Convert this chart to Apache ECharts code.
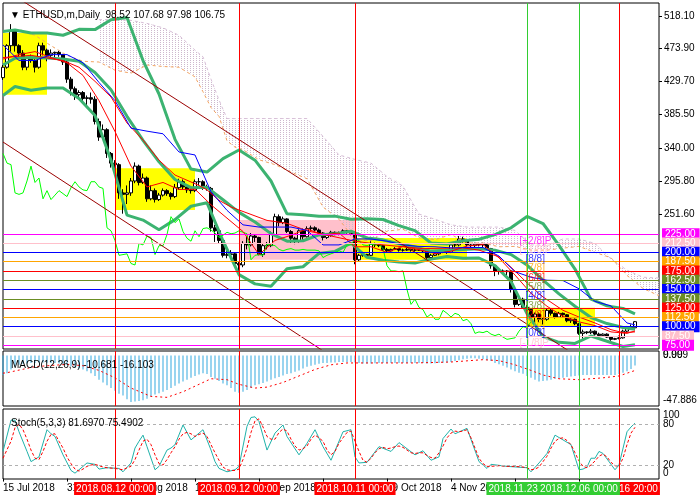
<!DOCTYPE html>
<html><head><meta charset="utf-8">
<script src="https://cdn.jsdelivr.net/npm/echarts@6/dist/echarts.min.js"></script>
<style>html,body{margin:0;padding:0;background:#fff}#c{width:700px;height:500px}</style>
</head><body><div id="c"></div>
<script>
// ---------- DATA ----------
const MONTHS=['Jan','Feb','Mar','Apr','May','Jun','Jul','Aug','Sep','Oct','Nov','Dec'];
const categories=[];
for(let k=0;k<165;k++){const d=new Date(Date.UTC(2018,6,15+k));categories.push(d.getUTCDate()+' '+MONTHS[d.getUTCMonth()]+' '+d.getUTCFullYear());}
const tickLabels=['15 Jul 2018','31 Jul 2018','16 Aug 2018','1 Sep 2018','17 Sep 2018','3 Oct 2018','19 Oct 2018','4 Nov 2018','20 Nov 2018','6 Dec 2018'];
const priceTicks=[518.10,473.90,429.70,385.50,340.00,295.80,251.60];

const opens=[435,449,478,498,478,468,449,461,458,449,478,472,465,468,469,466,456,433,420,412,415,407,408,406,376,355,365,333,320,318,280,278,280,296,316,294,300,272,283,271,277,283,279,275,287,295,288,284,283,295,295,288,286,233,229,216,196,197,198,185,183,212,210,222,220,197,209,209,224,248,240,245,228,219,215,229,221,232,233,230,226,220,223,227,225,226,229,227,225,190,196,197,196,211,210,209,204,202,204,205,203,203,204,203,203,203,202,193,196,198,200,202,200,210,210,218,216,210,209,211,210,211,205,182,175,175,174,175,150,130,137,126,123,113,117,110,110,122,118,113,118,116,108,110,104,91,93,92,94,90,88,90,86,83,84,85,94,100,98.52];
const closes=[449,478,498,478,468,449,461,458,449,478,472,465,468,469,466,456,433,420,412,415,407,408,406,376,355,365,333,320,318,280,278,280,296,316,294,300,272,283,271,277,283,279,275,287,295,288,284,283,295,295,288,286,233,229,216,196,197,198,185,183,212,210,222,220,197,209,209,224,248,240,245,228,219,215,229,221,232,233,230,226,220,223,227,225,226,229,227,225,190,196,197,196,211,210,209,204,202,204,205,203,203,204,203,203,203,202,193,196,198,200,202,200,210,210,218,216,210,209,211,210,211,205,182,175,175,174,175,150,130,137,126,123,113,117,110,110,122,118,113,118,116,108,110,104,91,93,92,94,90,88,90,86,83,84,85,94,100,98.52,106.75];
const highs=[452,480,507,500,480,472,463,466,460,482,482,474,473,470,471,467,458,436,423,418,417,411,415,410,380,372,367,335,324,320,285,290,300,321,318,306,302,290,286,280,286,285,281,292,299,298,291,287,298,300,297,291,288,237,231,218,204,203,200,187,215,222,226,224,221,212,214,228,252,251,248,246,230,221,231,232,235,236,235,232,227,225,229,228,228,231,230,228,226,198,199,198,216,213,212,210,206,205,207,206,205,206,205,205,204,204,203,198,200,201,204,203,212,214,222,221,217,212,213,212,213,212,206,184,179,177,176,176,152,143,139,129,125,119,119,112,124,124,119,120,119,117,112,111,105,96,94,97,95,92,91,91,87,85,88,96,101,103,107.68];
const lows=[432,447,470,470,462,445,445,455,442,447,465,457,462,462,463,452,428,411,405,406,403,397,400,372,350,354,327,314,308,272,252,265,276,293,290,292,268,270,267,269,275,276,271,273,284,284,280,279,281,290,284,283,228,214,212,193,192,194,180,168,180,204,208,214,196,194,204,207,223,235,238,226,212,211,213,217,220,229,228,223,216,218,221,223,223,224,225,223,184,188,194,193,195,207,207,202,200,201,203,201,201,202,201,201,202,200,191,191,195,196,199,198,199,207,208,213,208,206,207,208,207,203,178,168,170,172,169,146,126,128,124,121,111,104,106,103,108,115,111,112,113,106,105,102,89,84,90,90,88,86,87,85,81,82,83,84,92,96,97.98];

// Bollinger bands (20,2) read at sample bars
const bbIdx=[0,3,7,11,15,19,23,27,31,35,39,43,47,51,55,59,63,67,71,75,79,83,87,91,95,99,103,107,111,115,119,123,127,131,135,139,143,147,151,155,158];
const bbUpper=[497,499,495,495,492,500,499.6,513,516,458,413,352,312,308,326,337.6,324,296,251.8,250.6,248.5,248.7,244.5,245.3,244.2,236,229.2,212.5,211.2,215.5,217.6,223.9,233,248.3,238.8,209.4,177.5,137.1,128,124.6,117.4];
const bbMid=[452,461,462,461.5,460,457,441.8,418.7,383,350.6,321.8,298,287,287.4,270.8,253.8,240.8,225.2,215,215.6,223.5,225,228.4,219.3,216.8,211.5,207.4,201.7,202.8,203.8,205,203,197,182.9,162.7,144.2,127.5,112.3,104.2,99,96.6];
const bbLower=[411,423,418,421,421,407,384,324,250,243.4,230.4,244,262,266.6,215.6,170,157.6,154.4,178,180.6,198.5,201.3,212.3,193.3,189.4,187,185.6,190.9,194.4,192,192.4,182.1,161,117.5,86.6,79,77.5,87.5,80.4,73.4,75.8];

// Ichimoku
const ichiIdx=[0,4,8,12,16,20,24,28,32,36,40,44,48,52,56,60,64,68,72,76,80,84,88,92,96,100,104,108,112,116,120,124,128,132,136,140,144,148,152,156,158];
const tenkan=[460,466,470,462,455,438,404,362.5,316,288,294,284.5,285,264,246,228,197,216,223,231.5,223.5,226,207.5,207.5,200,208,203.5,198.5,201.5,208.5,210.5,192.5,169.5,145,127.5,114,106.5,101.5,93,91,94.3];
const kijun=[479,458,458,466,466,455,428.5,404,367,363,359.5,335,331,281.5,256.5,237,234,234,234,229.5,210,210,218,218,215,210,208,207.5,206,206.5,206.5,195,174,166.5,162.5,162,151,134,128,105,102.5];
const spanAEarlyIdx=[0,4,8,12,16,20];
const spanAEarly=[497,500,492,478,465,457];
const kumoIdx=[24,28,32,36,40,44,48,50,52,54,56,58,60,64,68,72,76,80,84,88,92,96,100,104,108,112,116,120,124,128,132,136,140,144,148,152,156,160,164];
const kumoA=[456,445,441,452,450,449,436,416,394.7,383,350,341.5,338,324.5,318,308,299,261,244.5,216.7,215.5,228.5,231,219.7,217,224,212.7,212.5,207.5,208,203,203,205.7,208,200,192.7,169,151.5,141.7];
const kumoB=[513,513,512,508,502,492,472,463,433,405,380,380,380,380,380,380,380,356,331,325,320,302,289,251.5,244.5,237,234,234,234,229.5,210,210,218,218,212,191,176,166.5,165.5];
const chikou=[333,320,318,280,278,280,296,316,294,300,272,283,271,277,283,279,275,287,295,288,284,283,295,295,288,286,233,229,216,196,197,198,185,183,212,210,222,220,197,209,209,224,248,240,245,228,219,215,229,221,232,233,230,226,220,223,227,225,226,229,227,225,190,196,197,196,211,210,209,204,202,204,205,203,203,204,203,203,203,202,193,196,198,200,202,200,210,210,218,216,210,209,211,210,211,205,182,175,175,174,175,150,130,137,126,123,113,117,110,110,122,118,113,118,116,108,110,104,91,93,92,94,90,88,90,86,83,84,85,94,100,98.52,106.75];

// second red moving average
const maIdx=[0,7,15,19,23,27,31,35,39,43,49,51,54,57,61,66,71,76,82,88,95,105,115,119,124,127,131,135,140,144,148,152,155,158];
const maVals=[462,465,458,449,430,409,374,351,324,304,290,284,270,261,253,243,239,229,222,215,210,205,206,203,194,180,159,140,122,113,105,96,92,93];

// trend lines (two anchor points each: bar index, price)
const trend1=[[0,555],[150,38]];
const trend2=[[0,348.4],[85,50]];

// Murrey math levels
const levelValues=[225,212.5,200,187.5,175,162.5,150,137.5,125,112.5,100,87.5,75];
const murreyNames=['[+2/8]P','[+1/8]P','[8/8]','[7/8]','[6/8]','[5/8]','[4/8]','[3/8]','[2/8]','[1/8]','[0/8]','[-1/8]P','[-2/8]P'];

// rectangles (bar index range, price range)
const rectStart=[0,28,59,88,131];
const rectEnd=[11,48,88,116,148];
const rectTop=[495,313,243.5,219.3,125.5];
const rectBottom=[412,257,190,190,101];

// vertical lines
const vIdx=[28,59,88,131,154,144];
const vText=['2018.08.12 00:00','2018.09.12 00:00','2018.10.11 00:00','2018.11.23 00:00','2018.12.16 20:00','2018.12.06 00:00'];

// MACD (12,26,9)
const macd=[-21,-19,-15,-12,-10,-9,-8.5,-8,-8,-7.5,
-7.5,-7.8,-8,-8,-8.5,-9,-10,-11.5,-13,-14,
-15,-17,-19,-22,-26,-29,-32,-35,-38,-41,
-43,-47,-50,-49.5,-49,-48,-46.5,-44,-42,-40.5,
-39,-37,-35,-32.5,-30,-28,-26,-24,-22,-20.5,
-19,-20,-23,-25,-27.5,-30,-32,-35,-39,-40,
-39,-37,-35,-32,-31,-29.5,-28,-26,-24.5,-23,
-21.5,-20,-19,-17.5,-16,-14,-12,-11,-10,-9,
-8,-8,-7.5,-7.5,-7,-7,-7,-7,-7.5,-8,
-8.5,-8.5,-8.5,-8.3,-8,-8,-8,-8,-8,-8,
-8,-8,-8,-8,-8,-8,-8.5,-8.5,-8.2,-8,
-7.7,-7.3,-7,-6,-5,-4,-3.5,-3,-3,-3.5,
-4,-5,-6,-8,-9.5,-11,-13,-15,-17,-18.5,
-19.5,-22,-24,-26,-28,-27.5,-27,-26,-25,-24.5,
-24,-23,-22.5,-22,-21.5,-21,-21,-21,-21,-21,
-21,-21,-21,-21,-20,-18.5,-17,-14.5,-10.681];
const macdSignal=[[0,-19],[1,-18.5],[8,-12],[16,-9.5],[20,-11],[24,-16],[28,-24],[32,-35],[37,-44],[41,-45],[45,-39],[49,-31],[52,-25],[56,-26],[59,-31],[63,-35],[66,-34],[70,-29],[74,-22],[78,-15],[82,-10],[86,-8],[95,-8],[103,-8],[112,-7],[120,-4.5],[124,-5.5],[128,-10],[132,-16],[135,-21],[139,-25],[144,-26],[150,-24],[154,-22],[158,-16.103]];

// Stochastic (5,3,3)
const stochK=[[0,40],[2,86],[3,86],[4,69],[6,40],[7,25],[9,32],[11,72],[12,66],[13,62],[15,35],[17,12],[18,8],[19,13],[21,23],[23,21],[24,14],[26,16],[29,15],[30,10],[32,23],[33,45],[34,55],[35,64],[36,47],[38,13],[39,18],[41,42],[42,45],[43,50],[45,79],[47,57],[50,72],[52,42],[53,25],[54,15],[56,10],[58,13],[59,18],[61,77],[62,90],[63,91],[64,84],[66,42],[68,67],[70,79],[71,62],[74,35],[76,52],[78,72],[80,47],[82,27],[85,69],[87,72],[88,32],[89,23],[91,24],[94,47],[97,40],[99,53],[103,35],[105,41],[107,27],[109,32],[110,59],[112,73],[113,66],[116,74],[119,25],[121,15],[122,21],[126,18],[131,16],[132,10],[134,23],[136,37],[138,64],[140,57],[142,50],[144,13],[145,14],[146,17],[147,30],[148,30],[149,40],[150,37],[153,13],[154,20],[156,69],[157,76],[158,81.6970]];
const stochD=[[0,30],[2,55],[3,75],[4,80],[5,72],[6,58],[7,42],[8,30],[9,28],[10,40],[11,55],[12,65],[13,66],[14,55],[15,45],[16,32],[17,22],[18,14],[19,11],[20,14],[21,18],[22,20],[23,21],[24,19],[25,17],[26,16],[28,15],[30,13],[31,16],[32,18],[33,28],[34,42],[35,55],[36,58],[37,50],[38,35],[39,22],[40,20],[41,28],[42,38],[43,47],[44,58],[45,66],[46,68],[47,66],[48,62],[49,65],[50,67],[51,62],[52,50],[53,38],[54,27],[55,17],[56,13],[57,12],[58,12],[59,14],[60,28],[61,45],[62,68],[63,85],[64,88],[65,76],[66,62],[67,58],[68,58],[69,68],[70,73],[71,70],[72,58],[73,48],[74,42],[75,44],[76,48],[77,58],[78,64],[79,60],[80,55],[81,42],[82,35],[83,40],[84,52],[85,60],[86,68],[87,70],[88,55],[89,40],[90,27],[91,24],[92,30],[93,38],[94,44],[95,46],[96,44],[97,45],[98,47],[99,48],[100,46],[101,42],[102,38],[103,37],[104,38],[105,38],[106,34],[107,31],[108,30],[109,38],[110,48],[111,60],[112,67],[113,70],[114,69],[115,70],[116,72],[117,60],[118,45],[119,30],[120,22],[121,18],[122,18],[124,19],[126,18],[128,18],[130,17],[131,16],[132,13],[133,14],[134,17],[135,25],[136,33],[137,45],[138,55],[139,59],[140,60],[141,56],[142,50],[143,38],[144,26],[145,18],[146,16],[147,20],[148,26],[149,33],[150,36],[151,32],[152,24],[153,19],[154,18],[155,30],[156,50],[157,67],[158,75.4902]];
const stochLevels=[20,80];

// ---------- STYLE ----------
const FONT='Liberation Sans';
const levelColors=['#FF00FF','#FFC0CB','#0000FF','#FFA500','#FF0000','#6B8E23','#0000FF','#6B8E23','#FF0000','#FFA500','#0000FF','#FFC0CB','#FF00FF'];
const rectColors=['#FFFF00','#FFFF00','#FFC0CB','#FFFF00','#FFFF00'];
const vColors=['#FF0000','#FF0000','#FF0000','#32CD32','#FF0000','#32CD32'];

const pc=document.createElement('canvas');pc.width=3;pc.height=2;
const pctx=pc.getContext('2d');pctx.fillStyle='#CDB8CD';pctx.fillRect(1,0,1,1);

const last=closes.length-1;
const pairs=(idx,vals)=>idx.map((x,k)=>[x,vals[k]]);

const chart=echarts.init(document.getElementById('c'),null,{width:700,height:500});
const grids=[{left:3,top:3,width:656,height:346},{left:3,top:351,width:656,height:55},{left:3,top:409,width:656,height:70}];

const S=[];
S.push({type:'line',xAxisIndex:0,yAxisIndex:0,data:[],z:1,silent:true,
  markArea:{silent:true,data:rectStart.map((s,k)=>[{xAxis:s,yAxis:rectTop[k],itemStyle:{color:rectColors[k]}},{xAxis:rectEnd[k],yAxis:rectBottom[k]}])}});
S.push({type:'line',xAxisIndex:0,yAxisIndex:0,data:kumoIdx.map((x,k)=>[x,Math.min(kumoA[k],kumoB[k])]),stack:'kumo',symbol:'none',lineStyle:{opacity:0},z:2,silent:true});
S.push({type:'line',xAxisIndex:0,yAxisIndex:0,data:kumoIdx.map((x,k)=>[x,Math.abs(kumoB[k]-kumoA[k])]),stack:'kumo',symbol:'none',lineStyle:{opacity:0},areaStyle:{color:{image:pc,repeat:'repeat'},opacity:1},z:2,silent:true});
S.push({type:'line',xAxisIndex:0,yAxisIndex:0,data:[],z:2,silent:true,
  markLine:{silent:true,symbol:['none','none'],animation:false,data:levelValues.map((v,k)=>({yAxis:v,lineStyle:{color:levelColors[k],width:1,type:'solid'},
    label:{show:true,position:'end',distance:3,formatter:v.toFixed(2),color:'#fff',backgroundColor:levelColors[k],padding:[1,4,0,3],fontSize:10,fontFamily:FONT}}))}});
S.push({type:'candlestick',xAxisIndex:0,yAxisIndex:0,z:3,barWidth:3,
  data:closes.map((c,k)=>[opens[k],c,lows[k],highs[k]]),
  itemStyle:{color:'#fff',color0:'#000',borderColor:'#000',borderColor0:'#000',borderWidth:1}});
function ln(data,color,width,extra){return Object.assign({type:'line',xAxisIndex:0,yAxisIndex:0,data,symbol:'none',showSymbol:false,lineStyle:{color,width},z:4,silent:true},extra||{});}
S.push(ln(pairs(spanAEarlyIdx,spanAEarly).concat(pairs(kumoIdx,kumoA)),'#F4A460',1,{lineStyle:{color:'#F4A460',width:1,type:[3,3]}}));
S.push(ln(pairs(kumoIdx,kumoB),'#D8BFD8',1,{lineStyle:{color:'#D8BFD8',width:1,type:[3,3]}}));
S.push(ln(pairs(bbIdx,bbUpper),'#3CB371',3));
S.push(ln(pairs(bbIdx,bbMid),'#3CB371',3));
S.push(ln(pairs(bbIdx,bbLower),'#3CB371',3));
S.push(ln(chikou,'#00FF00',1));
S.push(ln(pairs(maIdx,maVals),'#FF0000',1));
S.push(ln(pairs(ichiIdx,tenkan),'#FF0000',1));
S.push(ln(pairs(ichiIdx,kijun),'#0000FF',1));
S.push(ln(trend1,'#9B0000',1));
S.push(ln(trend2,'#9B0000',1));
S.push({type:'scatter',xAxisIndex:0,yAxisIndex:0,z:6,silent:true,symbol:'circle',symbolSize:1,itemStyle:{color:'rgba(0,0,0,0)'},
  data:levelValues.slice(0,12).map((v,k)=>({value:[129,v],label:{color:levelColors[k],offset:[murreyNames[k].endsWith('P')?0:6,7]}})),
  label:{show:true,position:'right',distance:0,fontSize:10,fontFamily:FONT,formatter:p=>murreyNames[p.dataIndex]}});
S.push({type:'bar',xAxisIndex:1,yAxisIndex:1,data:macd,barWidth:1,itemStyle:{color:'#35AAE0'},z:3,silent:true});
S.push({type:'line',xAxisIndex:1,yAxisIndex:1,data:macdSignal,symbol:'none',lineStyle:{color:'#FF0000',width:1,type:[2,3]},z:4,silent:true});
S.push({type:'line',xAxisIndex:2,yAxisIndex:3,data:stochK,symbol:'none',lineStyle:{color:'#20B2AA',width:1},z:4,silent:true,
  markLine:{silent:true,symbol:['none','none'],data:stochLevels.map(v=>({yAxis:v})),lineStyle:{color:'#B0B0B0',width:1,type:[3,3]},label:{show:false}}});
S.push({type:'line',xAxisIndex:2,yAxisIndex:3,data:stochD,symbol:'none',lineStyle:{color:'#FF0000',width:1,type:[3,2]},z:4,silent:true});
[[0,0],[1,1],[2,3]].forEach(([g,ya])=>{
  S.push({type:'line',xAxisIndex:g,yAxisIndex:ya,data:[],z:5,silent:true,
    markLine:{silent:true,symbol:['none','none'],data:vIdx.map((x,k)=>({xAxis:x,lineStyle:{color:vColors[k],width:1,type:'solid'},
      label:g===2?{show:true,position:'start',distance:3,formatter:vText[k],color:'#fff',backgroundColor:vColors[k],padding:[2,2,1,2],fontSize:10,fontFamily:FONT}:{show:false}}))}});
});

const yBase={type:'value',position:'right',splitLine:{show:false},axisLine:{show:false},axisTick:{show:false}};
const lbl=(vals,fmt,extra)=>Object.assign({customValues:vals,formatter:fmt,color:'#000',fontSize:10,fontFamily:FONT,margin:4},extra||{});
const option={
  animation:false,backgroundColor:'#fff',textStyle:{fontFamily:FONT},
  title:[
    {text:'\u25BC ETHUSD,m,Daily  '+[opens[last],highs[last],lows[last],closes[last]].map(v=>v.toFixed(2)).join(' '),left:5,top:5,textStyle:{fontSize:10,fontWeight:'normal',color:'#000',fontFamily:FONT}},
    {text:'MACD(12,26,9) '+macd[last].toFixed(3)+' '+macdSignal[macdSignal.length-1][1].toFixed(3),left:6,top:355,textStyle:{fontSize:10,fontWeight:'normal',color:'#000',fontFamily:FONT}},
    {text:'Stoch(5,3,3) '+stochK[stochK.length-1][1].toFixed(4)+' '+stochD[stochD.length-1][1].toFixed(4),left:6,top:413,textStyle:{fontSize:10,fontWeight:'normal',color:'#000',fontFamily:FONT}}
  ],
  grid:grids.map(g=>Object.assign({show:true,borderColor:'#000',borderWidth:1,backgroundColor:'#fff'},g)),
  xAxis:[0,1,2].map(g=>({type:'category',gridIndex:g,data:categories,boundaryGap:false,
    axisLine:{show:false},splitLine:{show:false},
    axisTick:{show:g===2,interval:(i,v)=>tickLabels.includes(v),length:3,lineStyle:{color:'#000'}},
    axisLabel:{show:g===2,interval:(i,v)=>tickLabels.includes(v),align:'left',color:'#000',fontSize:10,fontFamily:FONT,margin:4}})),
  yAxis:[
    Object.assign({},yBase,{gridIndex:0,min:70,max:535.4,axisTick:{show:true,length:3,customValues:priceTicks,lineStyle:{color:'#000'}},
      axisLabel:lbl(priceTicks,v=>v.toFixed(2),{margin:5})}),
    Object.assign({},yBase,{gridIndex:1,min:-54.3,max:4.84,axisLabel:lbl([0,-47.886],v=>v===0?'0.00':'-47.886')}),
    Object.assign({},yBase,{gridIndex:1,min:-54.3,max:4.84,axisLabel:lbl([0],()=>'9.999')}),
    Object.assign({},yBase,{gridIndex:2,min:-0.6,max:102.5,axisLabel:lbl([20,80],v=>String(v))}),
    Object.assign({},yBase,{gridIndex:2,min:-0.6,max:102.5,axisLabel:lbl([100],v=>String(v),{verticalAlign:'top'})}),
    Object.assign({},yBase,{gridIndex:2,min:-0.6,max:102.5,axisLabel:lbl([0],v=>String(v),{verticalAlign:'bottom'})})
  ],
  series:S
};
chart.setOption(option);
</script></body></html>
